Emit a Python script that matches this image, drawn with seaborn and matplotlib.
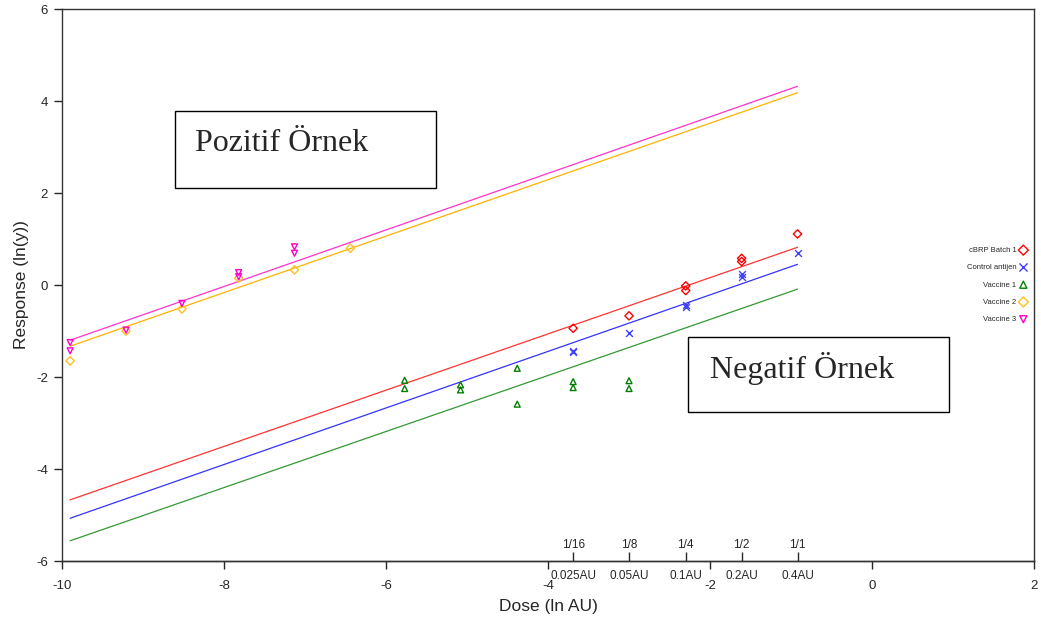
import matplotlib
matplotlib.use("Agg")
import matplotlib.pyplot as plt
import seaborn as sns
from matplotlib.patches import Rectangle
from matplotlib.transforms import blended_transform_factory

# Dose axis (ln AU) and the labelled dilutions of the negative sample
dose_ticks = [-3.69, -3.00, -2.30, -1.61, -0.92]
dilution_labels = ["1/16", "1/8", "1/4", "1/2", "1/1"]
au_labels = ["0.025AU", "0.05AU", "0.1AU", "0.2AU", "0.4AU"]

batch_x = [-3.69, -3.00, -2.30, -2.30, -1.61, -1.61, -0.92]
batch_y = [-0.94, -0.67, -0.02, -0.12, 0.58, 0.51, 1.11]

control_x = [-3.69, -3.69, -3.00, -2.30, -2.30, -1.61, -1.61, -0.92]
control_y = [-1.43, -1.45, -1.04, -0.43, -0.48, 0.24, 0.17, 0.70]

vac1_x = [-5.77, -5.77, -5.08, -5.08, -4.38, -4.38, -3.69, -3.69, -3.00, -3.00]
vac1_y = [-2.07, -2.25, -2.17, -2.28, -1.81, -2.59, -2.10, -2.23, -2.08, -2.25]

vac2_x = [-9.90, -9.21, -8.52, -7.82, -7.13, -6.44]
vac2_y = [-1.65, -1.00, -0.52, 0.15, 0.33, 0.80]

vac3_x = [-9.90, -9.90, -9.21, -8.52, -7.82, -7.82, -7.13, -7.13]
vac3_y = [-1.25, -1.43, -0.98, -0.40, 0.27, 0.18, 0.83, 0.69]

# Fitted lines (end points)
fit_x = [-9.90, -0.92]
batch_fit = [-4.67, 0.82]
control_fit = [-5.07, 0.45]
vac1_fit = [-5.56, -0.09]
vac2_fit = [-1.33, 4.18]
vac3_fit = [-1.20, 4.32]

series = [
    ("cBRP Batch 1", batch_x, batch_y, batch_fit, "#ff3333", "#ff0000", "D"),
    ("Control antijen", control_x, control_y, control_fit, "#3333ff", "#4040ff", "x"),
    ("Vaccine 1", vac1_x, vac1_y, vac1_fit, "#339933", "#008000", "^"),
    ("Vaccine 2", vac2_x, vac2_y, vac2_fit, "#ffb000", "#ffc020", "D"),
    ("Vaccine 3", vac3_x, vac3_y, vac3_fit, "#ff33cc", "#ff00cc", "v"),
]

sns.set_style("ticks")
plt.rcParams["font.family"] = ["Liberation Sans", "DejaVu Sans"]
plt.rcParams["axes.unicode_minus"] = False

fig = plt.figure(figsize=(10.41, 6.26), dpi=100)
ax = fig.add_axes([0.0596, 0.1038, 0.9337, 0.8818])

for name, xs, ys, fit, line_col, mark_col, marker in series:
    sns.lineplot(x=fit_x, y=fit, color=line_col, linewidth=0.9, ax=ax, legend=False)
    kws = dict(marker=marker, s=24, linewidth=1.0, color=mark_col)
    if marker != "x":
        kws["facecolor"] = "none"
        kws["edgecolor"] = mark_col
        kws["s"] = 18
    sns.scatterplot(x=xs, y=ys, ax=ax, label=name, zorder=3, **kws)

ax.set_xlim(-10, 2)
ax.set_ylim(-6, 6)
ax.set_xticks(range(-10, 3, 2))
ax.set_yticks(range(-6, 7, 2))
ax.tick_params(axis="both", direction="out", length=6, width=1, labelsize=9.5, pad=8)
ax.tick_params(axis="y", pad=4)
for sp in ax.spines.values():
    sp.set_linewidth(1.0)
    sp.set_color("#333333")

ax.set_xlabel("Dose (ln AU)", fontsize=12.5, labelpad=5)
ax.set_ylabel("Response (ln(y))", fontsize=12.5, labelpad=5)

# dilution ticks standing on the x axis, labels above
sec = ax.secondary_xaxis("top")
sec.set_location(0.0)
sec.set_xticks(dose_ticks)
sec.set_xticklabels(dilution_labels)
sec.tick_params(axis="x", length=6.5, width=1, labelsize=8.5, pad=1)
sec.spines["top"].set_linewidth(1.0)

# AU amounts just under the axis
trans = blended_transform_factory(ax.transData, ax.transAxes)
for xv, lab in zip(dose_ticks, au_labels):
    ax.text(xv, -0.027, lab, transform=trans, ha="center", va="center", fontsize=8.5)

# legend with markers on the right
leg = ax.legend(loc="center right", bbox_to_anchor=(1.0, 0.5), frameon=False,
                markerfirst=False, fontsize=5.5, labelspacing=1.3,
                handletextpad=0.4, handlelength=1.0, markerscale=1.2)

# annotation boxes
for (x0, y0, w, h, tx, ty, txt) in [
    (0.1163, 0.6757, 0.2685, 0.1395, 0.1368, 0.757, "Pozitif Örnek"),
    (0.6440, 0.2699, 0.2686, 0.1359, 0.6667, 0.3496, "Negatif Örnek"),
]:
    ax.add_patch(Rectangle((x0, y0), w, h, transform=ax.transAxes, facecolor="white",
                           edgecolor="black", linewidth=1.0, zorder=4))
    ax.text(tx, ty, txt, transform=ax.transAxes, fontsize=23, va="center", ha="left",
            family=["Liberation Serif", "DejaVu Serif"], zorder=5)

fig.savefig("out.png", dpi=100)
